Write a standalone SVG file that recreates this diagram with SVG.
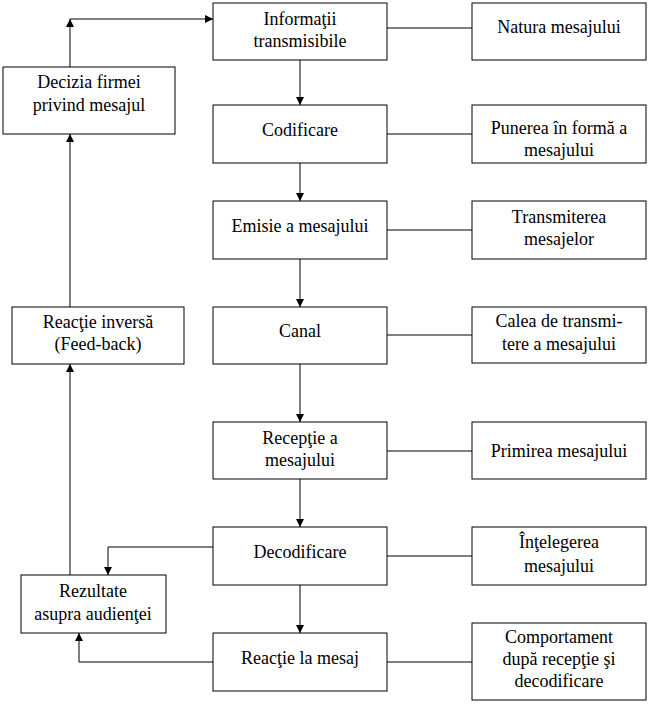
<svg xmlns="http://www.w3.org/2000/svg" width="649" height="704" viewBox="0 0 649 704">
<style>
rect{fill:#fff;stroke:#000;stroke-width:1}
line,polyline{fill:none;stroke:#000;stroke-width:1}
text{font-family:"Liberation Serif","Times New Roman",serif;font-size:18px;fill:#000;text-anchor:middle}
</style>
<defs>
<marker id="ah" markerWidth="8" markerHeight="8" refX="8" refY="4" orient="auto" markerUnits="userSpaceOnUse">
<path d="M0,0 L8,4 L0,8 Z" fill="#000"/>
</marker>
</defs>
<rect x="0" y="0" width="649" height="704" style="stroke:none"/>
<g id="connectors">
<line x1="300" y1="60" x2="300" y2="105" marker-end="url(#ah)"/>
<line x1="300" y1="163" x2="300" y2="201" marker-end="url(#ah)"/>
<line x1="300" y1="259" x2="300" y2="307" marker-end="url(#ah)"/>
<line x1="300" y1="364" x2="300" y2="422" marker-end="url(#ah)"/>
<line x1="300" y1="479" x2="300" y2="527" marker-end="url(#ah)"/>
<line x1="300" y1="585" x2="300" y2="633" marker-end="url(#ah)"/>
<line x1="387" y1="28" x2="472" y2="28"/>
<line x1="387" y1="134" x2="472" y2="134"/>
<line x1="387" y1="230" x2="472" y2="230"/>
<line x1="387" y1="335" x2="472" y2="335"/>
<line x1="387" y1="451" x2="472" y2="451"/>
<line x1="387" y1="556" x2="472" y2="556"/>
<line x1="387" y1="662" x2="472" y2="662"/>
<polyline points="213,547 108,547 108,575" marker-end="url(#ah)"/>
<polyline points="213,662 79,662 79,633" marker-end="url(#ah)"/>
<line x1="70" y1="575" x2="70" y2="364" marker-end="url(#ah)"/>
<line x1="70" y1="307" x2="70" y2="134" marker-end="url(#ah)"/>
<line x1="70" y1="67" x2="70" y2="19" marker-end="url(#ah)"/>
<line x1="70" y1="19" x2="213" y2="19" marker-end="url(#ah)"/>
</g>
<g id="informatii"><rect x="213" y="3" width="174" height="57"/><text x="300" y="25">Informaţii</text><text x="300" y="47">transmisibile</text></g>
<g id="codificare"><rect x="213" y="105" width="174" height="58"/><text x="300" y="136">Codificare</text></g>
<g id="emisie"><rect x="213" y="201" width="174" height="58"/><text x="300" y="232">Emisie a mesajului</text></g>
<g id="canal"><rect x="213" y="307" width="174" height="57"/><text x="300" y="337">Canal</text></g>
<g id="receptie"><rect x="213" y="422" width="174" height="57"/><text x="300" y="444">Recepţie a</text><text x="300" y="466">mesajului</text></g>
<g id="decodificare"><rect x="213" y="527" width="174" height="58"/><text x="300" y="558">Decodificare</text></g>
<g id="reactie-mesaj"><rect x="213" y="633" width="174" height="58"/><text x="300" y="664">Reacţie la mesaj</text></g>
<g id="natura"><rect x="472" y="3" width="174" height="57"/><text x="559" y="33">Natura mesajului</text></g>
<g id="punerea"><rect x="472" y="105" width="174" height="58"/><text x="559" y="134">Punerea în formă a</text><text x="559" y="156">mesajului</text></g>
<g id="transmiterea"><rect x="472" y="201" width="174" height="58"/><text x="559" y="223">Transmiterea</text><text x="559" y="245">mesajelor</text></g>
<g id="calea"><rect x="472" y="307" width="174" height="56"/><text x="559" y="327">Calea de transmi-</text><text x="559" y="350">tere a mesajului</text></g>
<g id="primirea"><rect x="472" y="422" width="174" height="57"/><text x="559" y="457">Primirea mesajului</text></g>
<g id="intelegerea"><rect x="472" y="527" width="174" height="58"/><text x="559" y="548">Înţelegerea</text><text x="559" y="572">mesajului</text></g>
<g id="comportament"><rect x="472" y="623" width="174" height="77"/><text x="559" y="643">Comportament</text><text x="559" y="665">după recepţie şi</text><text x="559" y="687">decodificare</text></g>
<g id="decizia"><rect x="3" y="67" width="172" height="67"/><text x="89" y="88">Decizia firmei</text><text x="89" y="111">privind mesajul</text></g>
<g id="reactie-inversa"><rect x="12" y="307" width="172" height="57"/><text x="98" y="328">Reacţie inversă</text><text x="98" y="350">(Feed-back)</text></g>
<g id="rezultate"><rect x="21" y="575" width="145" height="58"/><text x="93" y="597">Rezultate</text><text x="93" y="620">asupra audienţei</text></g>
</svg>
